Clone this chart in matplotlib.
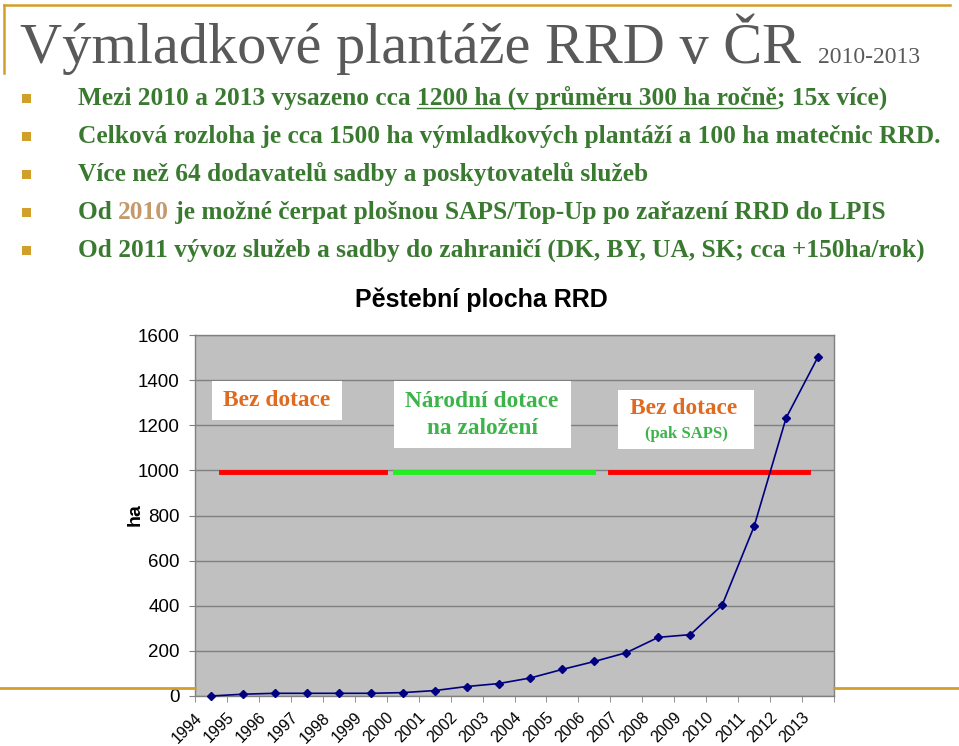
import matplotlib
matplotlib.use('Agg')
import matplotlib.pyplot as plt
from matplotlib.patches import Rectangle
from matplotlib.lines import Line2D
from matplotlib.transforms import ScaledTranslation

# data
years = list(range(1994, 2014))
area_ha = [0, 8, 12, 12, 12, 12, 15, 24, 42, 55, 80, 118, 153, 192, 260, 272, 403, 752, 1232, 1503]
y_ticks = [0, 200, 400, 600, 800, 1000, 1200, 1400, 1600]

bullets = [
    "Mezi 2010 a 2013 vysazeno cca 1200 ha (v průměru 300 ha ročně; 15x více)",
    "Celková rozloha je cca 1500 ha výmladkových plantáží a 100 ha matečnic RRD.",
    "Více než 64 dodavatelů sadby a poskytovatelů služeb",
    "Od 2010 je možné čerpat plošnou SAPS/Top-Up po zařazení RRD do LPIS",
    "Od 2011 vývoz služeb a sadby do zahraničí (DK, BY, UA, SK; cca +150ha/rok)",
]

W, H = 959, 746
GOLD = '#D1A02A'
GREEN = '#3A7A30'
ORANGE = '#E06A20'
LGREEN = '#3CB44A'
SERIF = 'Liberation Serif'
SANS = 'Liberation Sans'


def fx(x):
    return x / W


def fy(y):
    return 1 - y / H


fig = plt.figure(figsize=(W / 100, H / 100), dpi=100)
fig.patch.set_facecolor('white')

# slide decoration
fig.add_artist(Line2D([fx(4), fx(950)], [fy(5), fy(5)], color=GOLD, lw=1.8))
fig.add_artist(Line2D([fx(4), fx(4)], [fy(5), fy(73)], color=GOLD, lw=1.8))
fig.add_artist(Line2D([fx(0), fx(195)], [fy(688), fy(688)], color=GOLD, lw=2))
fig.add_artist(Line2D([fx(834), fx(959)], [fy(688), fy(688)], color=GOLD, lw=2))

# heading
fig.text(fx(20), fy(63), "Výmladkové plantáže RRD v ČR", family=SERIF,
         fontsize=42, color='#595959', va='baseline')
fig.text(fx(818), fy(63), "2010-2013", family=SERIF, fontsize=17,
         color='#595959', va='baseline')

renderer = fig.canvas.get_renderer()
baselines = [105, 143, 181, 219, 257]
bsize = 18.3


def put_pieces(pieces, x, y):
    # draw text pieces one after another, return their extents
    boxes = []
    for txt, col in pieces:
        t = fig.text(fx(x), fy(y), txt, family=SERIF, fontsize=bsize,
                     fontweight='bold', color=col, va='baseline')
        bb = t.get_window_extent(renderer)
        boxes.append(bb)
        x += bb.width
    return boxes


for i, line in enumerate(bullets):
    y = baselines[i]
    fig.add_artist(Rectangle((fx(22), fy(y - 2)), 9 / W, 9 / H,
                             facecolor=GOLD, edgecolor='none'))
    if i == 0:
        pieces = [("Mezi 2010 a 2013 vysazeno cca ", GREEN),
                  ("1200 ha (v průměru 300 ha ročně", GREEN),
                  ("; 15x více)", GREEN)]
        boxes = put_pieces(pieces, 78, y)
        ub = boxes[1]
        fig.add_artist(Line2D([ub.x0 / W, ub.x1 / W], [fy(y + 3), fy(y + 3)],
                              color=GREEN, lw=1))
    elif i == 3:
        pieces = [("Od ", GREEN), ("2010", '#C49A6C'),
                  (" je možné čerpat plošnou SAPS/Top-Up po zařazení RRD do LPIS", GREEN)]
        put_pieces(pieces, 78, y)
    else:
        put_pieces([(line, GREEN)], 78, y)

# chart
ax = fig.add_axes([fx(195), fy(696), (834 - 195) / W, (696 - 335) / H])
ax.set_facecolor('#C0C0C0')
x = list(range(len(years)))
ax.plot(x, area_ha, color='#000080', lw=1.2, marker='D', markersize=4.5, zorder=5, clip_on=False)

ax.set_xlim(-0.5, len(years) - 0.5)
ax.set_ylim(0, 1600)
ax.set_yticks(y_ticks)
ax.set_yticklabels([str(v) for v in y_ticks], family=SANS, fontsize=13.5)
ax.set_xticks(x)
ax.set_xticklabels([str(v) for v in years], family=SANS, fontsize=11.5,
                   rotation=45, ha='right', va='top')
ax.set_xticks([v - 0.5 for v in range(len(years) + 1)], minor=True)
ax.tick_params(axis='x', which='major', length=0, pad=10)
ax.tick_params(axis='x', which='minor', length=4, color='#808080', direction='out')
ax.tick_params(axis='y', length=4, color='#808080', pad=7)
shift = ScaledTranslation(-6 / 100, 0, fig.dpi_scale_trans)
for lab in ax.get_xticklabels():
    lab.set_transform(lab.get_transform() + shift)
ax.grid(axis='y', color='#808080', lw=1)
ax.set_axisbelow(True)
for s in ax.spines.values():
    s.set_color('#808080')
    s.set_linewidth(1)

fig.text(fx(481), fy(300), "Pěstební plocha RRD", family=SANS, fontsize=18,
         fontweight='bold', ha='center', va='center')
fig.text(fx(135), fy(515), "ha", family=SANS, fontsize=14, fontweight='bold',
         rotation=90, ha='center', va='center')

# period bars and labels
for x0, x1, col in [(221, 385, '#FF0000'), (395, 593, '#22EE22'), (610, 808, '#FF0000')]:
    ax.add_line(Line2D([fx(x0), fx(x1)], [fy(472), fy(472)], transform=fig.transFigure,
                       color=col, lw=3.5, zorder=3, clip_on=False))

for bx0, by0, bx1, by1 in [(212, 381, 342, 420), (394, 381, 571, 448), (618, 390, 754, 449)]:
    ax.add_patch(Rectangle((fx(bx0), fy(by1)), (bx1 - bx0) / W, (by1 - by0) / H,
                           transform=fig.transFigure, facecolor='white',
                           edgecolor='none', zorder=3, clip_on=False))

fig.text(fx(277), fy(401), "Bez dotace", family=SERIF, fontsize=16.8,
         fontweight='bold', color=ORANGE, ha='center', va='center', zorder=4)
fig.text(fx(482), fy(415), "Národní dotace\nna založení", family=SERIF, fontsize=16.8,
         fontweight='bold', color=LGREEN, ha='center', va='center', zorder=4,
         linespacing=1.4)
fig.text(fx(684), fy(409), "Bez dotace", family=SERIF, fontsize=16.8,
         fontweight='bold', color=ORANGE, ha='center', va='center', zorder=4)
fig.text(fx(686), fy(434), "(pak SAPS)", family=SERIF, fontsize=12,
         fontweight='bold', color=LGREEN, ha='center', va='center', zorder=4)

fig.savefig('out.png', dpi=100)
